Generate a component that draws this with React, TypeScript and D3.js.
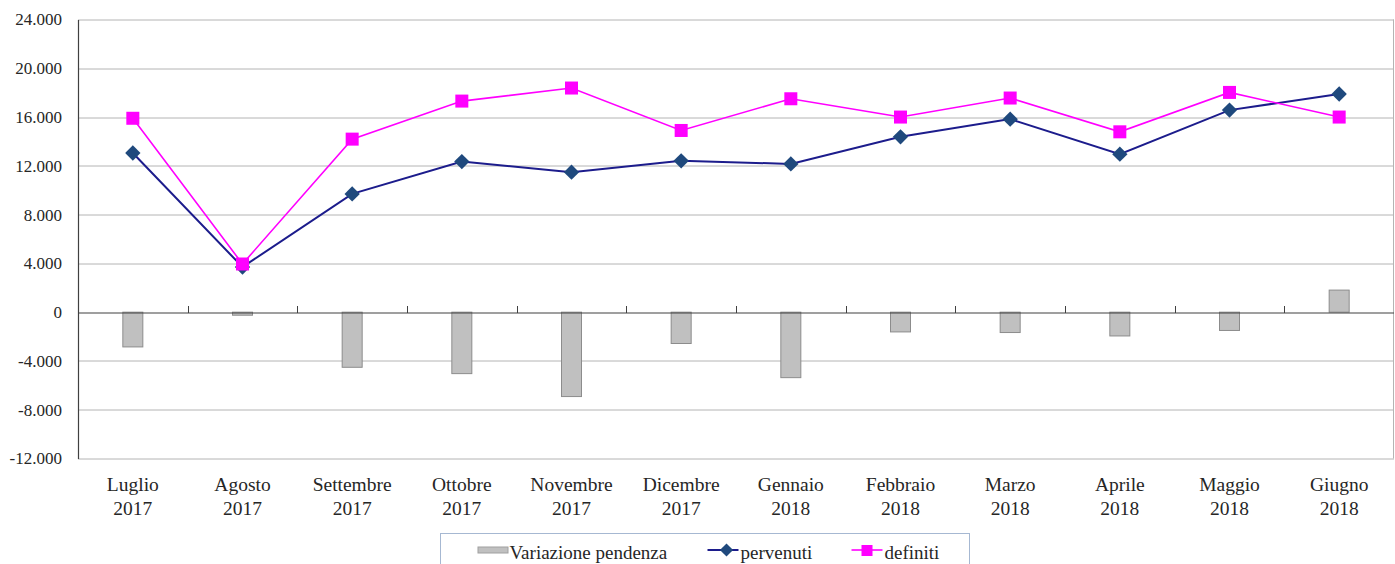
import React, { useEffect, useRef } from 'react';
import * as d3 from 'd3';

// mesi (due righe: mese / anno)
const mesi = ['Luglio', 'Agosto', 'Settembre', 'Ottobre', 'Novembre', 'Dicembre', 'Gennaio', 'Febbraio', 'Marzo', 'Aprile', 'Maggio', 'Giugno'];
const anni = ['2017', '2017', '2017', '2017', '2017', '2017', '2018', '2018', '2018', '2018', '2018', '2018'];

const variazione = [-2850, -250, -4520, -5040, -6920, -2570, -5370, -1620, -1670, -1950, -1500, 1810];
const pervenuti = [13050, 3700, 9700, 12350, 11480, 12410, 12160, 14380, 15830, 12960, 16570, 17890];
const definiti = [15900, 3950, 14190, 17310, 18380, 14900, 17500, 16000, 17560, 14790, 18020, 16000];

const yTicks = [-12000, -8000, -4000, 0, 4000, 8000, 12000, 16000, 20000, 24000];

const FONT = "'Liberation Serif', 'Times New Roman', 'DejaVu Serif', serif";

const App = () => {
  const chartRef = useRef<SVGSVGElement | null>(null);

  useEffect(() => {
    const svg = d3.select(chartRef.current);
    svg.selectAll('*').remove();

    const W = 1395;
    const H = 564;
    const margin = { top: 19.5, right: 1, bottom: 105.5, left: 78 };
    const width = W - margin.left - margin.right;
    const height = H - margin.top - margin.bottom;

    const g = svg.append('g').attr('transform', `translate(${margin.left},${margin.top})`);

    const x = d3.scaleBand<number>()
      .domain(d3.range(mesi.length))
      .range([0, width]);
    const cx = (i: number) => (x(i) as number) + x.bandwidth() / 2;

    const y = d3.scaleLinear().domain([-12000, 24000]).range([height, 0]);

    const it = d3.formatLocale({ decimal: ',', thousands: '.', grouping: [3], currency: ['€', ''], minus: '-' });
    const fmt = it.format(',d');

    // griglia
    g.append('g')
      .selectAll('line')
      .data(yTicks)
      .enter()
      .append('line')
      .attr('x1', 0)
      .attr('x2', width)
      .attr('y1', d => Math.round(y(d)) + 0.5)
      .attr('y2', d => Math.round(y(d)) + 0.5)
      .attr('stroke', d => (d === 0 ? 'none' : '#b4b4b4'))
      .attr('stroke-width', 1);

    // bordo destro
    g.append('line')
      .attr('x1', width - 0.5).attr('x2', width - 0.5)
      .attr('y1', y(24000)).attr('y2', y(-12000))
      .attr('stroke', '#b4b4b4');

    // asse y
    const yAxis = g.append('g')
      .call(d3.axisLeft(y).tickValues(yTicks).tickFormat(d => fmt(d as number)).tickSize(0).tickPadding(16));
    yAxis.attr('font-family', null).attr('font-size', null);
    yAxis.select('.domain').attr('stroke', '#404040').attr('stroke-width', 1.2);
    yAxis.selectAll('text')
      .style('font-family', FONT)
      .style('font-size', '17px')
      .attr('fill', '#262626');

    // barre
    const barW = 20;
    g.append('g')
      .selectAll('rect')
      .data(variazione)
      .enter()
      .append('rect')
      .attr('x', (d, i) => cx(i) - barW / 2)
      .attr('y', d => y(Math.max(0, d)))
      .attr('width', barW)
      .attr('height', d => Math.abs(y(d) - y(0)))
      .attr('fill', '#c0c0c0')
      .attr('stroke', '#8c8c8c')
      .attr('stroke-width', 1);

    // linea dello zero con tacche
    const y0 = Math.round(y(0)) + 0.5;
    g.append('line')
      .attr('x1', 0).attr('x2', width)
      .attr('y1', y0).attr('y2', y0)
      .attr('stroke', '#404040').attr('stroke-width', 1.2);
    g.append('g')
      .selectAll('line')
      .data(d3.range(1, mesi.length))
      .enter()
      .append('line')
      .attr('x1', d => Math.round(x(d) as number) + 0.5)
      .attr('x2', d => Math.round(x(d) as number) + 0.5)
      .attr('y1', y0)
      .attr('y2', y0 - 7)
      .attr('stroke', '#404040');

    // etichette mesi
    const lbl = g.append('g')
      .selectAll('text')
      .data(mesi)
      .enter()
      .append('text')
      .attr('x', (d, i) => cx(i))
      .attr('y', height + 32)
      .attr('text-anchor', 'middle')
      .style('font-family', FONT)
      .style('font-size', '19.5px')
      .attr('fill', '#262626');
    lbl.append('tspan').attr('x', (d, i) => cx(i)).text(d => d);
    lbl.append('tspan').attr('x', (d, i) => cx(i)).attr('dy', 24.5).text((d, i) => anni[i]);

    // linee
    const line = d3.line<number>().x((d, i) => cx(i)).y(d => y(d));

    g.append('path')
      .datum(pervenuti)
      .attr('d', line)
      .attr('fill', 'none')
      .attr('stroke', '#1c1c8c')
      .attr('stroke-width', 2);

    g.append('path')
      .datum(definiti)
      .attr('d', line)
      .attr('fill', 'none')
      .attr('stroke', '#ff00ff')
      .attr('stroke-width', 1.6);

    const diamond = d3.symbol().type(d3.symbolDiamond2).size(150);
    g.append('g')
      .selectAll('path')
      .data(pervenuti)
      .enter()
      .append('path')
      .attr('d', diamond())
      .attr('transform', (d, i) => `translate(${cx(i)},${y(d)})`)
      .attr('fill', '#1f497d');

    const sq = 13;
    g.append('g')
      .selectAll('rect')
      .data(definiti)
      .enter()
      .append('rect')
      .attr('x', (d, i) => cx(i) - sq / 2)
      .attr('y', d => y(d) - sq / 2)
      .attr('width', sq)
      .attr('height', sq)
      .attr('fill', '#ff00ff');

    // legenda
    const leg = svg.append('g').attr('transform', 'translate(440.5,533.5)');
    leg.append('rect')
      .attr('width', 529)
      .attr('height', 40)
      .attr('fill', '#ffffff')
      .attr('stroke', '#a6b8d2')
      .attr('stroke-width', 1);

    const legText = (xPos: number, t: string) =>
      leg.append('text')
        .attr('x', xPos)
        .attr('y', 25.5)
        .style('font-family', FONT)
        .style('font-size', '19px')
        .attr('fill', '#262626')
        .text(t);

    leg.append('rect')
      .attr('x', 37.5).attr('y', 13.5)
      .attr('width', 30).attr('height', 6)
      .attr('fill', '#c0c0c0').attr('stroke', '#a0a0a0');
    legText(69, 'Variazione pendenza');

    leg.append('line').attr('x1', 267).attr('x2', 298).attr('y1', 16.5).attr('y2', 16.5)
      .attr('stroke', '#1c1c8c').attr('stroke-width', 2);
    leg.append('path').attr('d', d3.symbol().type(d3.symbolDiamond2).size(110)())
      .attr('transform', 'translate(286,16.5)').attr('fill', '#1f497d');
    legText(300, 'pervenuti');

    leg.append('line').attr('x1', 411).attr('x2', 442).attr('y1', 16.5).attr('y2', 16.5)
      .attr('stroke', '#ff00ff').attr('stroke-width', 1.6);
    leg.append('rect').attr('x', 421).attr('y', 11.5).attr('width', 11).attr('height', 11).attr('fill', '#ff00ff');
    legText(444, 'definiti');
  }, []);

  return (
    <svg
      ref={chartRef}
      width={1395}
      height={564}
      style={{ position: 'absolute', left: 0, top: 0, background: '#ffffff' }}
    />
  );
};

export default App;
